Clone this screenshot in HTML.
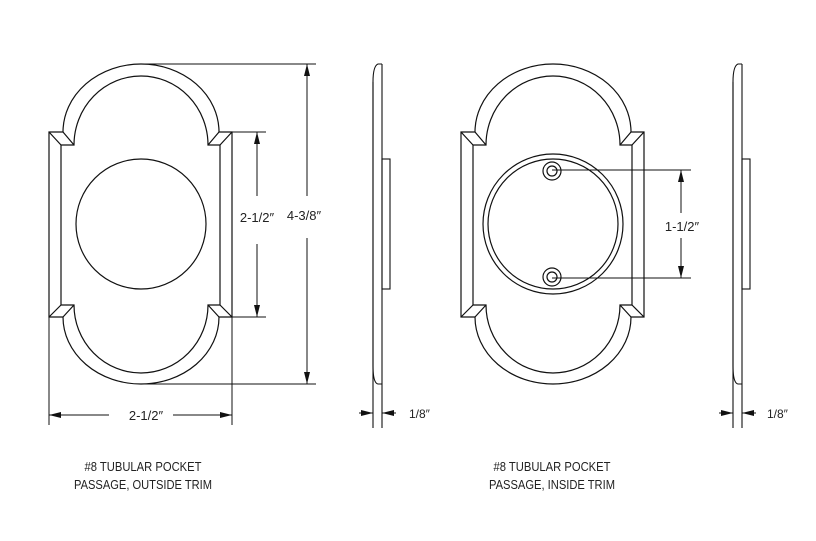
<!DOCTYPE html>
<html><head><meta charset="utf-8"><style>
html,body{margin:0;padding:0;background:#fff}
svg{display:block}
text{font-family:"Liberation Sans",sans-serif;fill:#222}
</style></head><body>
<svg width="816" height="541" viewBox="0 0 816 541" xmlns="http://www.w3.org/2000/svg">
<defs>
<marker id="a" viewBox="0 0 12 6" refX="12" refY="3" markerWidth="12" markerHeight="6" markerUnits="userSpaceOnUse" orient="auto-start-reverse"><path d="M0,0 L12,3 L0,6 Z" fill="#111"/></marker>
<g id="plate" fill="none" stroke="#111" stroke-width="1.2">
<path d="M49,132 L63,132 A78 68 0 0 1 219,132 L232,132 L232,317 L219,317 A78 67 0 0 1 63,317 L49,317 Z"/>
<path d="M61,145 L74,145 A67 69 0 0 1 208,145 L220,145 L220,305 L208,305 A67 68 0 0 1 74,305 L61,305 Z"/>
<path d="M49,132 L61,145 M63,132 L74,145 M232,132 L220,145 M219,132 L208,145 M49,317 L61,305 M63,317 L74,305 M232,317 L220,305 M219,317 L208,305"/>
</g>
<g id="side" fill="none" stroke="#111" stroke-width="1.1">
<path d="M382,64 L378,64 Q373,66 373,82 L373,366 Q373,383 378,384 L382,384"/>
<line x1="373" y1="82" x2="373" y2="428"/>
<line x1="382" y1="64" x2="382" y2="428"/>
<rect x="382" y="159" width="8" height="130"/>
</g>
</defs>

<use href="#plate"/>
<circle cx="141" cy="224" r="65" fill="none" stroke="#111" stroke-width="1.2"/>

<g stroke="#111" stroke-width="1" fill="none">
<line x1="141" y1="64" x2="316" y2="64"/>
<line x1="141" y1="384" x2="316" y2="384"/>
<line x1="307" y1="196" x2="307" y2="64" marker-end="url(#a)"/>
<line x1="307" y1="238" x2="307" y2="384" marker-end="url(#a)"/>
<line x1="232" y1="132" x2="266" y2="132"/>
<line x1="232" y1="317" x2="266" y2="317"/>
<line x1="257" y1="196" x2="257" y2="132" marker-end="url(#a)"/>
<line x1="257" y1="244" x2="257" y2="317" marker-end="url(#a)"/>
<line x1="49" y1="317" x2="49" y2="425"/>
<line x1="232" y1="317" x2="232" y2="425"/>
<line x1="109" y1="415" x2="49" y2="415" marker-end="url(#a)"/>
<line x1="173" y1="415" x2="232" y2="415" marker-end="url(#a)"/>
</g>
<text x="257" y="222" font-size="13" text-anchor="middle">2-1/2″</text>
<text x="304" y="220" font-size="13" text-anchor="middle">4-3/8″</text>
<text x="146" y="420" font-size="13" text-anchor="middle">2-1/2″</text>

<use href="#side"/>
<g stroke="#111" stroke-width="1" fill="none">
<line x1="359" y1="413" x2="373" y2="413" marker-end="url(#a)"/>
<line x1="396" y1="413" x2="382" y2="413" marker-end="url(#a)"/>
</g>
<text x="409" y="418" font-size="12">1/8″</text>

<use href="#plate" transform="translate(412,0)"/>
<g fill="none" stroke="#111" stroke-width="1.2">
<circle cx="553" cy="224" r="70"/>
<circle cx="553" cy="224" r="65"/>
<circle cx="552" cy="171" r="9"/>
<circle cx="552" cy="171" r="5"/>
<circle cx="552" cy="277" r="9"/>
<circle cx="552" cy="277" r="5"/>
</g>
<g stroke="#111" stroke-width="1" fill="none">
<line x1="552" y1="170" x2="691" y2="170"/>
<line x1="552" y1="278" x2="691" y2="278"/>
<line x1="681" y1="213" x2="681" y2="170" marker-end="url(#a)"/>
<line x1="681" y1="238" x2="681" y2="278" marker-end="url(#a)"/>
</g>
<text x="682" y="231" font-size="13" text-anchor="middle">1-1/2″</text>

<use href="#side" transform="translate(360,0)"/>
<g stroke="#111" stroke-width="1" fill="none">
<line x1="719" y1="413" x2="733" y2="413" marker-end="url(#a)"/>
<line x1="756" y1="413" x2="742" y2="413" marker-end="url(#a)"/>
</g>
<text x="767" y="418" font-size="12">1/8″</text>

<text x="143" y="471" font-size="13" text-anchor="middle" textLength="117" lengthAdjust="spacingAndGlyphs">#8 TUBULAR POCKET</text>
<text x="143" y="489" font-size="13" text-anchor="middle" textLength="138" lengthAdjust="spacingAndGlyphs">PASSAGE, OUTSIDE TRIM</text>
<text x="552" y="471" font-size="13" text-anchor="middle" textLength="117" lengthAdjust="spacingAndGlyphs">#8 TUBULAR POCKET</text>
<text x="552" y="489" font-size="13" text-anchor="middle" textLength="126" lengthAdjust="spacingAndGlyphs">PASSAGE, INSIDE TRIM</text>
</svg>
</body></html>
